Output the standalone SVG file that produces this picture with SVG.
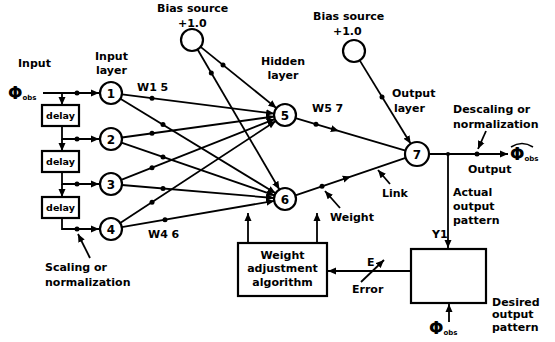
<svg xmlns="http://www.w3.org/2000/svg" width="555" height="342" viewBox="0 0 555 342">
<style>
text{font-family:"DejaVu Sans",sans-serif;font-weight:bold;font-size:11px;fill:#000}
.n{font-size:12px;text-anchor:middle}
.c{text-anchor:middle}
.ln{stroke:#000;stroke-width:1.8;fill:none}
.nd{fill:#fff;stroke:#000;stroke-width:2.2}
.bx{fill:#fff;stroke:#000;stroke-width:2.2}
.sub{font-size:7px}
.phi{font-size:17px}
</style>
<defs>
<marker id="a" markerUnits="userSpaceOnUse" markerWidth="9" markerHeight="8" refX="8" refY="4" orient="auto"><path d="M0,0.5 L8,4 L0,7.5 Z" fill="#000"/></marker>
<marker id="m" markerUnits="userSpaceOnUse" markerWidth="9" markerHeight="8" refX="4" refY="4" orient="auto"><path d="M0,0.5 L8,4 L0,7.5 Z" fill="#000"/></marker>
</defs>
<g id="connectors" class="ln">
<path d="M43,93 H99" marker-end="url(#a)"/>
<path d="M62,93 V105" marker-end="url(#a)"/>
<path d="M62,126 V139 H99" marker-end="url(#a)"/>
<path d="M62,139 V151" marker-end="url(#a)"/>
<path d="M62,172 V184 H99" marker-end="url(#a)"/>
<path d="M62,184 V197" marker-end="url(#a)"/>
<path d="M62,218 V229 H99" marker-end="url(#a)"/>
<path d="M90,258 L78,234" marker-end="url(#a)"/>
<path d="M122,94.4 L274.1,113.6" marker-end="url(#a)"/>
<path d="M120.4,98.7 L275.6,193.3" marker-end="url(#a)"/>
<path d="M121.9,137.5 L274.1,116.5" marker-end="url(#a)"/>
<path d="M121.4,142.6 L274.6,195.4" marker-end="url(#a)"/>
<path d="M121.2,179.9 L274.8,119.1" marker-end="url(#a)"/>
<path d="M122,185 L274,198" marker-end="url(#a)"/>
<path d="M120.2,223 L275.8,121" marker-end="url(#a)"/>
<path d="M121.8,227.1 L274.2,200.9" marker-end="url(#a)"/>
<path d="M200.6,46.9 L276.4,108.1" marker-end="url(#a)"/>
<path d="M197.6,49.5 L279.4,189.5" marker-end="url(#a)"/>
<path d="M359.7,60.4 L410.7,143.8" marker-end="url(#a)"/>
<path d="M295.5,118.1 L335,129.8 L405.5,150.6" marker-mid="url(#m)"/>
<path d="M295.4,195.4 L347,177.8 L405.6,157.9" marker-mid="url(#m)"/>
<path d="M340,208 L325,191" marker-end="url(#a)"/>
<path d="M390,184 L378,170" marker-end="url(#a)"/>
<path d="M429,154 H508" marker-end="url(#a)"/>
<path d="M486,131 L478,149" marker-end="url(#a)"/>
<path d="M448,154 V248" marker-end="url(#a)"/>
<path d="M449,322 V304" marker-end="url(#a)"/>
<path d="M411,271 H328" marker-end="url(#a)"/>
<path d="M361,282 L384,260" marker-end="url(#a)"/>
<path d="M248,243 V213" marker-end="url(#a)"/>
<path d="M317,243 V213" marker-end="url(#a)"/>
</g>
<g id="dots" fill="#000">
<circle cx="77" cy="93" r="2.5"/>
<circle cx="77" cy="139" r="2.5"/>
<circle cx="77" cy="184" r="2.5"/>
<circle cx="77" cy="229" r="2.5"/>
<circle cx="152" cy="98.2" r="2.5"/>
<circle cx="163" cy="124.6" r="2.5"/>
<circle cx="152" cy="133.3" r="2.5"/>
<circle cx="163" cy="156.9" r="2.5"/>
<circle cx="152" cy="167.7" r="2.5"/>
<circle cx="163" cy="188.5" r="2.5"/>
<circle cx="152" cy="202.2" r="2.5"/>
<circle cx="165" cy="219.7" r="2.5"/>
<circle cx="223" cy="65" r="2.5"/>
<circle cx="211.3" cy="73" r="2.5"/>
<circle cx="382" cy="96.9" r="2.5"/>
<circle cx="316" cy="124.2" r="2.5"/>
<circle cx="322" cy="186.3" r="2.5"/>
<circle cx="448" cy="154" r="2"/>
<circle cx="477" cy="154" r="2.5"/>
</g>
<g id="delay1"><rect class="bx" x="42" y="105" width="37" height="21"/><text class="c" x="60.5" y="119" style="font-size:9.5px">delay</text></g>
<g id="delay2"><rect class="bx" x="42" y="151" width="37" height="21"/><text class="c" x="60.5" y="165" style="font-size:9.5px">delay</text></g>
<g id="delay3"><rect class="bx" x="42" y="197" width="37" height="21"/><text class="c" x="60.5" y="211" style="font-size:9.5px">delay</text></g>
<g id="node1"><circle class="nd" cx="111" cy="93" r="11"/><text class="n" x="111" y="97.5">1</text></g>
<g id="node2"><circle class="nd" cx="111" cy="139" r="11"/><text class="n" x="111" y="143.5">2</text></g>
<g id="node3"><circle class="nd" cx="111" cy="184" r="11"/><text class="n" x="111" y="188.5">3</text></g>
<g id="node4"><circle class="nd" cx="111" cy="229" r="11"/><text class="n" x="111" y="233.5">4</text></g>
<g id="node5"><circle class="nd" cx="285" cy="115" r="11"/><text class="n" x="285" y="119.5">5</text></g>
<g id="node6"><circle class="nd" cx="285" cy="199" r="11"/><text class="n" x="285" y="203.5">6</text></g>
<g id="node7"><circle class="nd" cx="417" cy="154" r="12"/><text class="n" x="417" y="158.5">7</text></g>
<g id="bias1"><circle class="nd" cx="192" cy="40" r="11"/><text x="157" y="12">Bias source</text><text x="178" y="27">+1.0</text></g>
<g id="bias2"><circle class="nd" cx="354" cy="51" r="11"/><text x="313" y="20">Bias source</text><text x="333" y="35">+1.0</text></g>
<g id="weightbox"><rect class="bx" x="238" y="243" width="89" height="53"/><text class="c" x="282.5" y="259">Weight</text><text class="c" x="282.5" y="272">adjustment</text><text class="c" x="282.5" y="286">algorithm</text></g>
<g id="comparebox"><rect class="bx" x="411" y="249" width="75" height="54"/></g>
<g id="labels">
<text x="18" y="67">Input</text>
<text x="95" y="60">Input</text>
<text x="96" y="74">layer</text>
<text x="137" y="91">W1 5</text>
<text x="148" y="238">W4 6</text>
<text x="45" y="271">Scaling or</text>
<text x="45" y="286">normalization</text>
<text class="c" x="283" y="65">Hidden</text>
<text class="c" x="283" y="79">layer</text>
<text x="312" y="112">W5 7</text>
<text x="392" y="97">Output</text>
<text x="394" y="112">layer</text>
<text x="453" y="113">Descaling or</text>
<text x="453" y="128">normalization</text>
<text x="468" y="173">Output</text>
<text x="382" y="197">Link</text>
<text x="330" y="221">Weight</text>
<text x="453" y="196">Actual</text>
<text x="453" y="210">output</text>
<text x="453" y="224">pattern</text>
<text x="432" y="238">Y1</text>
<text x="367" y="266">E</text>
<text x="352" y="293">Error</text>
<text x="492" y="306">Desired</text>
<text x="492" y="318">output</text>
<text x="492" y="331">pattern</text>
<text class="phi" x="8" y="99">Φ<tspan class="sub" dy="1">obs</tspan></text>
<text class="phi" x="510" y="160">Φ<tspan class="sub" dy="1">obs</tspan></text>
<path d="M511,147 Q522,140 533,147" stroke="#000" stroke-width="1.5" fill="none"/>
<text class="phi" x="429" y="334">Φ<tspan class="sub" dy="1">obs</tspan></text>
</g>
</svg>
